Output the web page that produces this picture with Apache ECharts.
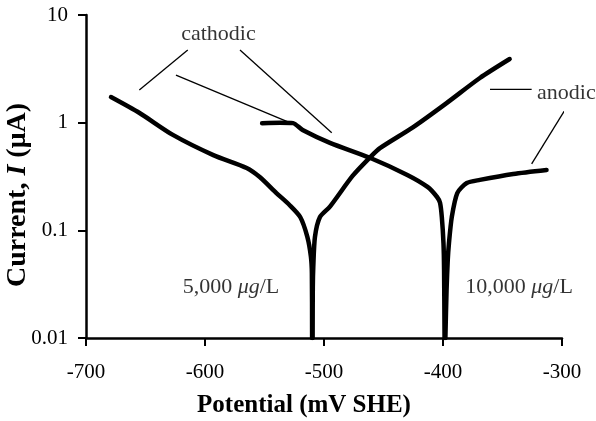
<!DOCTYPE html>
<html>
<head>
<meta charset="utf-8">
<script src="https://cdn.jsdelivr.net/npm/echarts@6/dist/echarts.min.js"></script>
<style>
html,body{margin:0;padding:0;background:#fff;}
#chart{width:596px;height:421px;}
</style>
</head>
<body>
<div id="chart"></div>
<script>
// ---- Data (potential mV SHE, current μA) ----
const xTickLabels = ['-700', '-600', '-500', '-400', '-300'];
const yTickLabels = ['0.01', '0.1', '1', '10'];

// 5,000 μg/L curve
const low_cathodic = [
  [-679, 1.73], [-655, 1.23], [-627, 0.77], [-593, 0.50], [-565, 0.38],
  [-554, 0.313], [-540, 0.222], [-529, 0.172], [-520, 0.133], [-514, 0.087],
  [-511, 0.057], [-510.2, 0.040], [-510, 0.01]
];
const low_anodic = [
  [-509.6, 0.01], [-509.4, 0.03], [-509, 0.046], [-507.6, 0.087], [-503.4, 0.133],
  [-495, 0.166], [-476, 0.32], [-461, 0.48], [-453, 0.58], [-425, 0.91],
  [-397, 1.52], [-369, 2.6], [-344, 3.9]
];
// 10,000 μg/L curve
const high_cathodic = [
  [-552, 0.99], [-537, 1.0], [-526, 0.99], [-518, 0.855], [-495, 0.65],
  [-461, 0.47], [-430, 0.327], [-413, 0.253], [-405, 0.204], [-402.5, 0.18],
  [-401, 0.133], [-399.6, 0.076], [-399.1, 0.043], [-398.7, 0.01]
];
const high_anodic = [
  [-398, 0.01], [-397, 0.028], [-396, 0.053], [-395, 0.076], [-392.6, 0.133],
  [-388, 0.222], [-380, 0.275], [-369, 0.294], [-341, 0.334], [-313, 0.364]
];

// annotation leader lines (data coordinates)
const leaderLines = [
  [[-614.5, 4.73], [-655.2, 2.01]],
  [[-624.4, 2.77], [-530.3, 1.015]],
  [[-570.6, 4.73], [-493.5, 0.807]],
  [[-360.5, 2.04], [-325.5, 2.04]],
  [[-296.1, 1.39], [-325.5, 0.414]]
];
// annotation texts
const annotationTexts = ['cathodic', 'anodic', '5,000 {i|μg}/L', '10,000 {i|μg}/L'];
const annotationAt = [[-588.7, 6.6], [-321, 1.89], [-578.2, 0.0298], [-336.1, 0.0298]];
const annotationAlign = ['center', 'left', 'center', 'center'];

const FONT = 'Liberation Serif';
const chart = echarts.init(document.getElementById('chart'), null, {renderer: 'canvas'});

const curveStyle = {color: '#000', width: 4.5, cap: 'round', join: 'round'};
function curve(data) {
  return {
    type: 'line', data: data, showSymbol: false, symbol: 'none', smooth: 0.25,
    lineStyle: curveStyle, silent: true, animation: false, z: 3
  };
}

const series = [
  curve(low_cathodic), curve(low_anodic), curve(high_cathodic), curve(high_anodic)
];
leaderLines.forEach(function (seg) {
  series.push({
    type: 'line', data: seg, showSymbol: false, symbol: 'none', clip: false,
    lineStyle: {color: '#000', width: 1.3}, silent: true, animation: false, z: 2
  });
});
series.push({
  type: 'scatter', symbolSize: 0, silent: true, animation: false, clip: false,
  data: annotationAt.map(function (p, i) {
    return {
      value: p,
      label: {
        show: true,
        position: annotationAlign[i] === 'left' ? 'right' : 'inside',
        distance: 0,
        formatter: annotationTexts[i],
        color: '#000', fontFamily: FONT, fontSize: 22,
        rich: {i: {fontStyle: 'italic', fontFamily: FONT, fontSize: 22, color: '#000'}}
      }
    };
  })
});

chart.setOption({
  backgroundColor: '#fff',
  animation: false,
  grid: {left: 86, right: 34, top: 15, bottom: 83, containLabel: false, outerBoundsMode: 'none'},
  graphic: [{
    type: 'text', x: 18, y: 195, rotation: Math.PI / 2, silent: true,
    style: {
      text: '{b|Current, }{i|I}{b| (μA)}',
      align: 'center', verticalAlign: 'middle',
      rich: {
        b: {fontFamily: FONT, fontWeight: 'bold', fontSize: 28, fill: '#000'},
        i: {fontFamily: FONT, fontWeight: 'bold', fontStyle: 'italic', fontSize: 28, fill: '#000'}
      }
    }
  }],
  xAxis: {
    type: 'value', min: -700, max: -300, interval: 100,
    name: 'Potential (mV SHE)', nameLocation: 'middle', nameGap: 55,
    nameTextStyle: {fontFamily: FONT, fontWeight: 'bold', fontSize: 25, color: '#000', padding: [0, 40, 0, 0]},
    axisLine: {show: true, onZero: false, lineStyle: {color: '#000', width: 2.5}},
    axisTick: {show: true, inside: false, length: 8, lineStyle: {color: '#000', width: 2}},
    axisLabel: {
      margin: 24, fontFamily: FONT, fontSize: 21, color: '#000',
      formatter: function (v) { return xTickLabels[Math.round((v + 700) / 100)]; }
    },
    splitLine: {show: false}
  },
  yAxis: {
    type: 'log', logBase: 10, min: 0.01, max: 10,
    axisLine: {show: true, lineStyle: {color: '#000', width: 2.5}},
    axisTick: {show: true, inside: false, length: 8, lineStyle: {color: '#000', width: 2}},
    axisLabel: {
      margin: 18, fontFamily: FONT, fontSize: 21, color: '#000',
      formatter: function (v) { return yTickLabels[Math.round(Math.log10(v)) + 2]; }
    },
    splitLine: {show: false}
  },
  series: series
});
</script>
</body>
</html>
